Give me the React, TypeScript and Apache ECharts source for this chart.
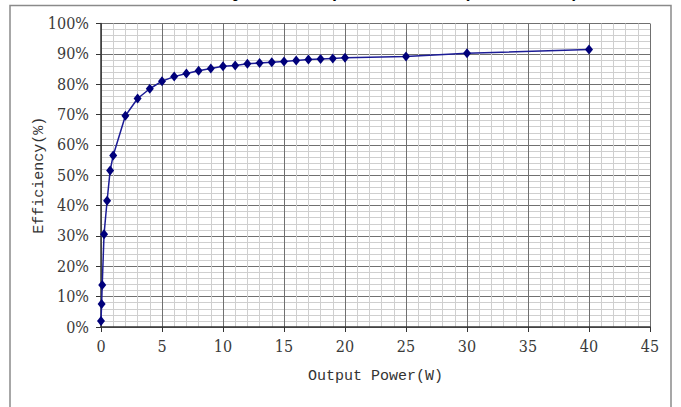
import React, { useEffect, useRef } from "react";
import * as echarts from "echarts";

const titleText = "Efficiency vs Output Power (Vin=12V)";
const xName = "Output Power(W)";
const yName = "Efficiency(%)";

const powerW = [0, 0.05, 0.1, 0.25, 0.5, 0.75, 1, 2, 3, 4, 5, 6, 7, 8, 9, 10, 11, 12, 13, 14, 15, 16, 17, 18, 19, 20, 25, 30, 40];
const efficiencyPct = [2.0, 7.6, 13.8, 30.6, 41.6, 51.6, 56.5, 69.6, 75.3, 78.5, 81.0, 82.5, 83.5, 84.4, 85.2, 85.9, 86.2, 86.7, 87.0, 87.2, 87.5, 87.8, 88.1, 88.3, 88.5, 88.7, 89.1, 90.2, 91.4];

const xMin = 0, xMax = 45, xStep = 5;
const yMin = 0, yMax = 100, yStep = 10;

export default function App() {
  const ref = useRef<HTMLDivElement>(null);
  useEffect(() => {
    if (!ref.current) return;
    const chart = echarts.init(ref.current, null, { renderer: "svg" });
    const seriesData = powerW.map((x, i) => [x, efficiencyPct[i]]);
    const tickFont = "DejaVu Serif Condensed";
    const nameFont = "Liberation Mono";
    chart.setOption({
      animation: false,
      backgroundColor: "#ffffff",
      title: {
        text: titleText,
        left: 126,
        top: -33,
        textStyle: { fontFamily: "Liberation Sans", fontSize: 27, fontWeight: "normal", color: "#000" },
      },
      graphic: [
        {
          type: "rect",
          shape: { x: 10, y: 5.5, width: 661, height: 420 },
          style: { fill: "none", stroke: "#8a8a8a", lineWidth: 1.5 },
          z: -1,
        },
      ],
      grid: { left: 101, right: 31, top: 23.5, bottom: 80, containLabel: false },
      xAxis: {
        type: "value",
        min: xMin,
        max: xMax,
        interval: xStep,
        name: xName,
        nameLocation: "middle",
        nameGap: 42,
        nameMoveOverlap: false,
        nameTextStyle: { fontFamily: nameFont, fontSize: 15, color: "#333" },
        axisLine: { show: true, onZero: false, lineStyle: { color: "#333", width: 1.5 } },
        axisTick: { show: true, inside: false, length: 5, lineStyle: { color: "#333" } },
        axisLabel: { margin: 11, fontFamily: tickFont, fontSize: 16, color: "#3a3a3a" },
        splitLine: { show: true, lineStyle: { color: "#707070", width: 1 } },
        minorTick: { show: false, splitNumber: 5 },
        minorSplitLine: { show: true, lineStyle: { color: "#cfcfcf", width: 1 } },
      },
      yAxis: {
        type: "value",
        min: yMin,
        max: yMax,
        interval: yStep,
        name: yName,
        nameLocation: "middle",
        nameGap: 54,
        nameMoveOverlap: false,
        nameTextStyle: { fontFamily: nameFont, fontSize: 15, color: "#333" },
        axisLine: { show: true, onZero: false, lineStyle: { color: "#333", width: 1.5 } },
        axisTick: { show: true, inside: false, length: 5, lineStyle: { color: "#333" } },
        axisLabel: { margin: 12, fontFamily: tickFont, fontSize: 16, color: "#3a3a3a", formatter: "{value}%" },
        splitLine: { show: true, lineStyle: { color: "#707070", width: 1 } },
        minorTick: { show: false, splitNumber: 5 },
        minorSplitLine: { show: true, lineStyle: { color: "#cfcfcf", width: 1 } },
      },
      series: [
        {
          type: "line",
          data: seriesData,
          symbol: "diamond",
          symbolSize: [8, 10],
          showSymbol: true,
          lineStyle: { color: "#1c1c96", width: 1.5 },
          itemStyle: { color: "#00007a" },
          z: 5,
        },
      ],
    });
    return () => chart.dispose();
  }, []);
  return <div ref={ref} style={{ position: "absolute", left: 0, top: 0, width: 681, height: 407 }} />;
}
